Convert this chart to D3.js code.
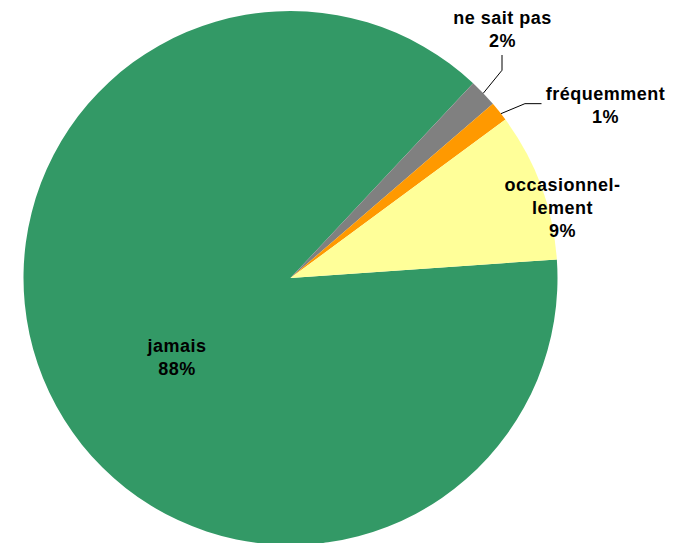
<!DOCTYPE html>
<html><head><meta charset="utf-8">
<script src="https://cdn.jsdelivr.net/npm/d3@7"></script>
<style>html,body{margin:0;padding:0;background:#fff;}svg{display:block;}</style>
</head><body>
<script>
const categories = ["jamais", "ne sait pas", "fréquemment", "occasionnellement"];
const labelLines = [["jamais"], ["ne sait pas"], ["fréquemment"], ["occasionnel-", "lement"]];
const values = [88.1, 1.7, 1.2, 9.0];
const pctLabels = ["88%", "2%", "1%", "9%"];
const colors = ["#339966", "#808080", "#FF9900", "#FFFF99"];

const W = 686, H = 543;
const cx = 290.5, cy = 278, R = 267;
const svg = d3.select("body").append("svg").attr("width", W).attr("height", H);
const g = svg.append("g").attr("transform", `translate(${cx},${cy})`);

const startDeg = 86;
const pie = d3.pie().sort(null).value(d => d)
  .startAngle(startDeg * Math.PI / 180).endAngle((startDeg + 360) * Math.PI / 180);
const arcs = pie(values);
const arc = d3.arc().innerRadius(0).outerRadius(R);

g.selectAll("path.slice").data(arcs).join("path")
  .attr("class", "slice")
  .attr("d", arc)
  .attr("fill", (d, i) => colors[i]);

const labelPos = [
  {x: 177 - cx, y: 352 - cy, leader: null},
  {x: 502.5 - cx, y: 24 - cy, leader: "vertical"},
  {x: 605.5 - cx, y: 100 - cy, leader: "horizontal"},
  {x: 562.5 - cx, y: 191 - cy, leader: null}
];
const lineH = 23;

const pt = (a, r) => [r * Math.sin(a), -r * Math.cos(a)];

arcs.forEach((d, i) => {
  const lp = labelPos[i];
  const mid = (d.startAngle + d.endAngle) / 2;
  if (lp.leader === "vertical") {
    const p0 = pt(mid, R);
    const p1 = [lp.x - 0.5, p0[1] - 23];
    g.append("polyline").attr("points", [p0, p1, [p1[0], 55 - cy]].map(p => p.join(",")).join(" "))
      .attr("fill", "none").attr("stroke", "#000").attr("stroke-width", 1);
  } else if (lp.leader === "horizontal") {
    const p0 = pt(mid + 0.01, R);
    const p1 = [p0[0] + 24, p0[1] - 10];
    const p2 = [lp.x - 64, p1[1]];
    g.append("polyline").attr("points", [p0, p1, p2].map(p => p.join(",")).join(" "))
      .attr("fill", "none").attr("stroke", "#000").attr("stroke-width", 1);
  }
  const lines = labelLines[i].concat([pctLabels[i]]);
  const t = g.append("text")
    .attr("text-anchor", "middle")
    .attr("font-family", "'Liberation Sans', Arial, sans-serif")
    .attr("font-weight", "bold")
    .attr("font-size", 18)
    .attr("letter-spacing", 0.5)
    .attr("fill", "#000");
  lines.forEach((s, k) => {
    t.append("tspan").attr("x", lp.x).attr("y", lp.y + k * lineH).text(s);
  });
});
</script>
</body></html>
